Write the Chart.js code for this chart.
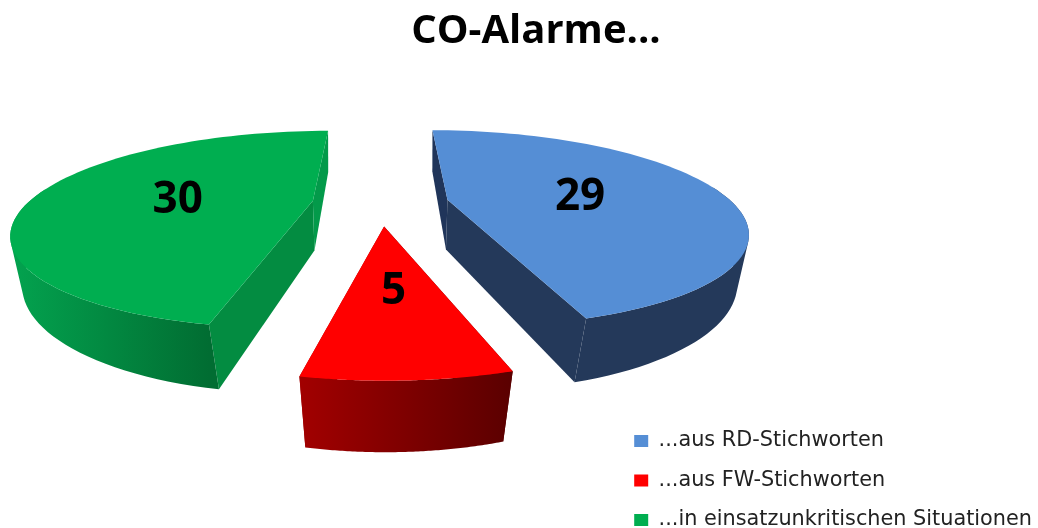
<!DOCTYPE html>
<html>
<head>
<meta charset="utf-8">
<title>CO-Alarme</title>
<script src="https://cdn.jsdelivr.net/npm/chart.js@4/dist/chart.umd.min.js"></script>
<style>
    html, body { margin: 0; padding: 0; background: #fff; }
    #wrap { width: 1038px; height: 528px; }
</style>
</head>
<body>
<div id="wrap"><canvas id="pieChart" width="1038" height="528"></canvas></div>
<script>
// data
const categories = ['...aus RD-Stichworten', '...aus FW-Stichworten', '...in einsatzunkritischen Situationen'];
const values = [29, 5, 30];

// slice colours
const topColors = ['#558ed5', '#ff0000', '#00ae50'];
const rimFrom = ['#24395a', '#a20000', '#03a34f'];
const rimTo = ['#24395a', '#5a0000', '#016d32'];
const cutStart = ['#20355a', '#5a0000', '#038c41'];
const cutEnd = ['#24395a', '#a20000', '#039a4a'];

// perspective of the 3d pie
const vanishX = 380.5;
const horizonY = -111;
const scaleX = 285;
const scaleY = 314;
const camera = 3.43;
const explode = 0.24;
const labelPos = 0.49;

function project(x, y, lower) {
    const s = camera / (camera - y);
    let px = vanishX + scaleX * x * s;
    let py = horizonY + scaleY * s;
    if (lower) {
        px = vanishX + (px - vanishX) * (1 - 0.09 * (s - 0.74));
        py += 12 + 38 * s;
    }
    return [px, py];
}

function tracePoly(ctx, pts) {
    pts.forEach(function(p, i) {
        if (i == 0) ctx.moveTo(p[0], p[1]);
        else ctx.lineTo(p[0], p[1]);
    });
    ctx.closePath();
}

function fillPoly(ctx, pts, color) {
    ctx.beginPath();
    tracePoly(ctx, pts);
    ctx.fillStyle = color;
    ctx.fill();
}

function signedArea(pts) {
    let sum = 0;
    pts.forEach(function(p, i) {
        const n = pts[(i + 1) % pts.length];
        sum += p[0] * n[1] - n[0] * p[1];
    });
    return sum;
}

// pie drawn from the angles chart.js worked out for each arc
const pie3d = {
    id: 'pie3d',
    afterLayout(chart) {
        // legend sits lower and further left than the auto layout puts it
        chart.legend.left = 615.5;
        chart.legend.top += 21;
        chart.legend.bottom += 21;
    },
    beforeDatasetsDraw(chart) {
        const ctx = chart.ctx;
        const arcs = chart.getDatasetMeta(0).data;
        arcs.forEach(function(arc, i) {
            const a0 = arc.startAngle + Math.PI / 2;
            const a1 = arc.endAngle + Math.PI / 2;
            const mid = (a0 + a1) / 2;
            const cx = explode * Math.sin(mid);
            const cy = -explode * Math.cos(mid);

            const top = [];
            const rimTop = [];
            const rimBottom = [];
            let bottomFirst, bottomLast;
            for (let k = 0; k <= 80; k++) {
                const a = a0 + (a1 - a0) * k / 80;
                const x = cx + Math.sin(a);
                const y = cy - Math.cos(a);
                const p = project(x, y, false);
                const q = project(x, y, true);
                top.push(p);
                if (k == 0) bottomFirst = q;
                if (k == 80) bottomLast = q;
                // back part of the rim is hidden anyway
                if (Math.cos(a) < 0.15) {
                    rimTop.push(p);
                    rimBottom.push(q);
                }
            }
            const apexTop = project(cx, cy, false);
            const apexBottom = project(cx, cy, true);

            // cut faces
            fillPoly(ctx, [apexTop, top[0], bottomFirst, apexBottom], cutStart[i]);
            fillPoly(ctx, [apexTop, top[80], bottomLast, apexBottom], cutEnd[i]);

            // outer rim, one quad per step so the side silhouette stays closed
            const xs = rimTop.map(p => p[0]);
            const grad = ctx.createLinearGradient(Math.min(...xs), 0, Math.max(...xs), 0);
            grad.addColorStop(0, rimFrom[i]);
            grad.addColorStop(1, rimTo[i]);
            ctx.beginPath();
            for (let k = 0; k < rimTop.length - 1; k++) {
                const quad = [rimTop[k], rimTop[k + 1], rimBottom[k + 1], rimBottom[k]];
                // same winding for all quads, or the overlaps cancel out
                if (signedArea(quad) < 0) quad.reverse();
                tracePoly(ctx, quad);
            }
            ctx.fillStyle = grad;
            ctx.fill();

            // top face
            fillPoly(ctx, [apexTop].concat(top), topColors[i]);

            // value label
            const lp = project(cx + labelPos * Math.sin(mid), cy - labelPos * Math.cos(mid), false);
            ctx.fillStyle = '#000';
            ctx.font = 'bold 44px "Open Sans"';
            ctx.textAlign = 'center';
            ctx.textBaseline = 'middle';
            ctx.fillText(String(values[i]), lp[0], lp[1] + 4);
        });
        return false;
    }
};

const config = {
    type: 'pie',
    data: {
        labels: categories,
        datasets: [{
            data: values,
            backgroundColor: topColors,
            borderWidth: 0
        }]
    },
    plugins: [pie3d],
    options: {
        responsive: false,
        animation: false,
        layout: { padding: { left: 34 } },
        plugins: {
            title: {
                display: true,
                text: 'CO-Alarme...',
                color: '#000',
                font: { family: '"Open Sans"', size: 40, weight: 'bold' },
                padding: { top: 8, bottom: 10 }
            },
            legend: {
                position: 'right',
                align: 'end',
                labels: {
                    color: '#222',
                    font: { family: '"DejaVu Sans"', size: 20.8 },
                    boxWidth: 14,
                    boxHeight: 12,
                    padding: 18.7
                }
            },
            tooltip: { enabled: false }
        }
    }
};

const pieChart = new Chart(document.getElementById('pieChart'), config);
</script>
</body>
</html>
